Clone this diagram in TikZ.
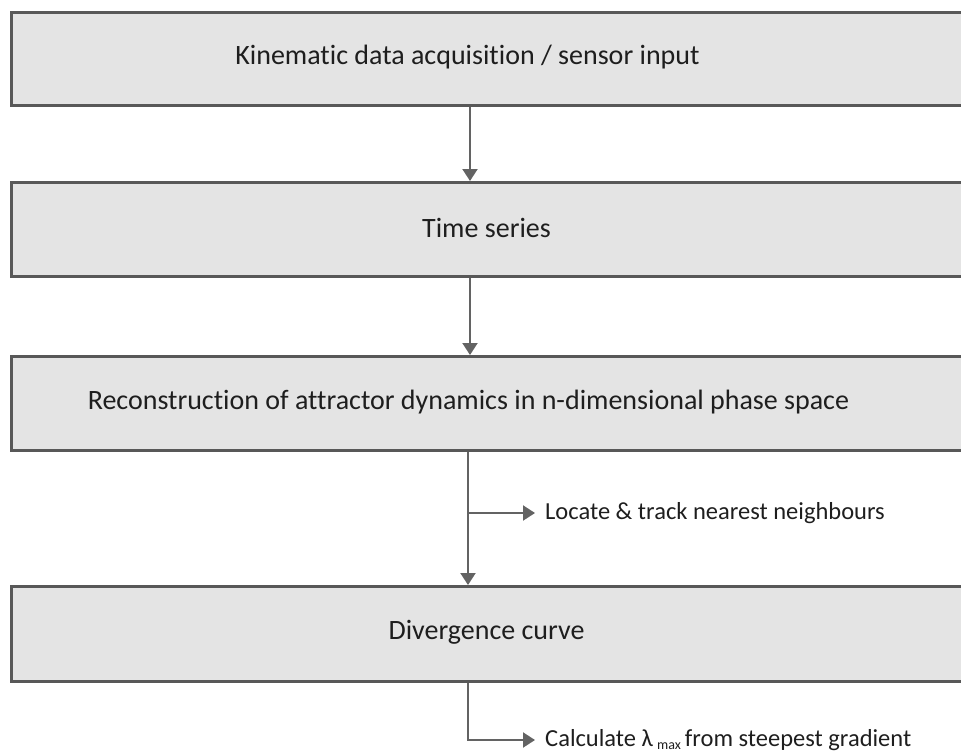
\documentclass[tikz,border=0pt]{standalone}
\usepackage{fontspec}
\setmainfont[Ligatures=NoCommon]{Carlito}
\usetikzlibrary{arrows.meta}
\definecolor{boxfill}{HTML}{E4E4E4}
\definecolor{boxline}{HTML}{585858}
\definecolor{arrowgray}{HTML}{636363}
\definecolor{txt}{HTML}{1E1E1E}
\begin{document}
\begin{tikzpicture}[x=1pt,y=-1pt,
  stagebox/.style={draw=boxline, line width=2.6pt, fill=boxfill, rectangle,
    anchor=north west, inner sep=0pt, minimum width=1000pt},
  stagetext/.style={font=\fontsize{28}{33}\selectfont, text=txt, inner sep=0pt},
  sidetext/.style={font=\fontsize{24.5}{29}\selectfont, text=txt, inner sep=0pt, anchor=west},
  flow/.style={draw=arrowgray, line width=2pt, -{Triangle[width=15pt,length=12pt]}},
  ]
\useasboundingbox (0,0) rectangle (961,755);

% stage boxes (they run past the right edge of the page)
\node[stagebox, minimum height=93pt] (b1) at (10,11) {};
\node[stagebox, minimum height=94pt] (b2) at (10,181) {};
\node[stagebox, minimum height=94pt] (b3) at (10,355) {};
\node[stagebox, minimum height=95pt] (b4) at (10,585) {};

% stage captions
\node[stagetext] (t1) at (467.5,57.5) {Kinematic data acquisition / sensor input};
\node[stagetext] (t2) at (486.5,228) {Time series};
\node[stagetext] (t3) at (468.5,402) {Reconstruction of attractor dynamics in n-dimensional phase space};
\node[stagetext] (t4) at (486.5,632.5) {Divergence curve};

% columns of the vertical connectors
\coordinate (colA) at (470,0);
\coordinate (colB) at (468,0);

\draw[flow] (b1.south -| colA) -- (b2.north -| colA);
\draw[flow] (b2.south -| colA) -- (b3.north -| colA);
\draw[flow] (b3.south -| colB) -- (b4.north -| colB);

% side steps
\node[sidetext] (n1) at (545,513) {Locate \& track nearest neighbours};
\node[sidetext] (n2) at (545,740) {Calculate λ\,{\fontsize{14}{14}\selectfont\raisebox{-3pt}{max}}\,from steepest gradient};

\draw[flow] (n1.west -| colB) -- ([xshift=-10pt]n1.west);
\draw[flow] (b4.south -| colB) |- ([xshift=-10pt]n2.west);
\end{tikzpicture}
\end{document}
